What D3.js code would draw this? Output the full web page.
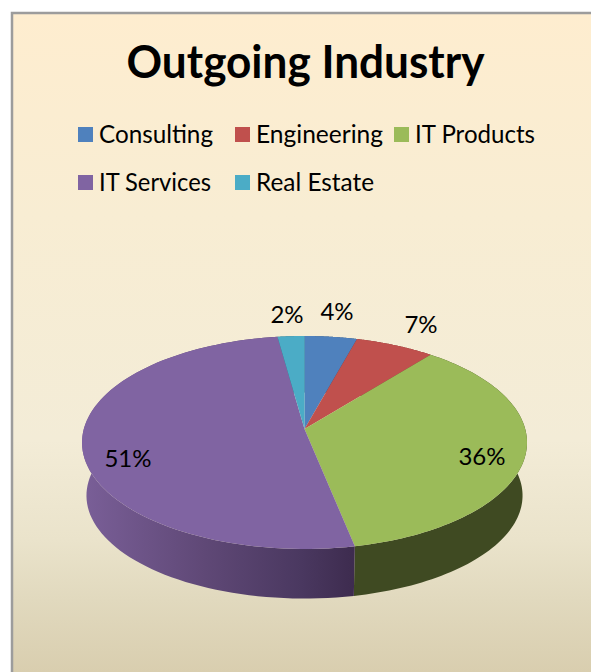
<!DOCTYPE html>
<html>
<head>
<meta charset="utf-8">
<script src="https://cdnjs.cloudflare.com/ajax/libs/d3/7.8.5/d3.min.js"></script>
<style>
html,body{margin:0;padding:0;background:#fff;overflow:hidden}
svg{display:block}
text{font-family:Lato,"Open Sans",sans-serif;fill:#000}
</style>
</head>
<body>
<svg id="chart" width="591" height="672"></svg>
<script>
// data
const categories = ["Consulting","Engineering","IT Products","IT Services","Real Estate"];
const shares = [4.3,6.5,36,51,2.2];
const colors = ["#4F81BD","#C0504D","#9BBB59","#8064A2","#4BACC6"];
const titleText = "Outgoing Industry";

// layout
const W = 591, H = 672;
const center = {x:304.5, y:429};
const R = 220.7, persp = 0.1268, yA = 104.8;
const depth = 53.5, bottomScaleX = 0.98, bottomScaleY = 0.967;
const legendCols = [78,235,394], legendRows = [127,175];
const legendWidths = [114,127,120,112,118];
const labelPos = [[337,312],[421,325],[482,457],[128,459],[287,315]];

const svg = d3.select("#chart");
const defs = svg.append("defs");

// background
const bg = defs.append("linearGradient").attr("id","bg").attr("x1",0).attr("y1",0).attr("x2",0).attr("y2",1);
[[0,"#FEEDCF"],[0.3,"#F8EDD3"],[0.635,"#F3ECD7"],[0.784,"#EAE3CB"],[0.873,"#E1D9BE"],[0.98,"#D9CEAF"]].forEach(s=>bg.append("stop").attr("offset",s[0]).attr("stop-color",s[1]));
svg.append("rect").attr("x",12).attr("y",13).attr("width",W).attr("height",H).attr("fill","url(#bg)").attr("stroke","#9C9C9C").attr("stroke-width",2.5);

// projection of the tilted disc
function proj(a, bottom){
  const u = Math.sin(a), v = Math.cos(a), k = 1 + persp*v;
  const px = R*u/k, py = -yA*v/k;
  return bottom ? [center.x + px*bottomScaleX, center.y + py*bottomScaleY + depth] : [center.x + px, center.y + py];
}
const arcs = d3.pie().sort(null).value(d=>d)(shares);
const n = 90;
const samples = d => d3.range(n+1).map(i => d.startAngle + (d.endAngle-d.startAngle)*i/n);
const line = d3.line();

// side wall gradients
const wallGradient = (id, stops) => {
  const g = defs.append("linearGradient").attr("id",id).attr("gradientUnits","userSpaceOnUse")
    .attr("x1",82).attr("y1",0).attr("x2",356).attr("y2",0);
  stops.forEach(s=>g.append("stop").attr("offset",s[0]).attr("stop-color",s[1]));
};
wallGradient("wallPurple",[[0,"#7A5F98"],[0.45,"#5F4876"],[0.8,"#4A3860"],[1,"#3D2B4E"]]);
const wallFill = ["#2F4D72","#742F2D","#3F4A22","url(#wallPurple)","#2C6A7A"];

// walls
svg.append("g").selectAll("path").data(arcs).join("path")
  .attr("d", d => {
    const s = samples(d);
    return line(s.map(a=>proj(a,false)).concat(s.slice().reverse().map(a=>proj(a,true)))) + "Z";
  })
  .attr("fill",(d,i)=>wallFill[i]);

// top surface
svg.append("g").selectAll("path").data(arcs).join("path")
  .attr("d", d => line([[center.x,center.y]].concat(samples(d).map(a=>proj(a,false)))) + "Z")
  .attr("fill",(d,i)=>colors[i]);

// title
svg.append("text").attr("x",305.5).attr("y",78).attr("text-anchor","middle")
  .attr("font-size",45).attr("font-weight",700)
  .attr("textLength",358).attr("lengthAdjust","spacingAndGlyphs").text(titleText);

// legend
const legendPos = [[0,0],[1,0],[2,0],[0,1],[1,1]];
const lg = svg.append("g").selectAll("g").data(categories).join("g")
  .attr("transform",(d,i)=>`translate(${legendCols[legendPos[i][0]]},${legendRows[legendPos[i][1]]})`);
lg.append("rect").attr("width",15).attr("height",15).attr("fill",(d,i)=>colors[i]);
lg.append("text").attr("x",21).attr("y",16).attr("font-size",25)
  .attr("textLength",(d,i)=>legendWidths[i]).attr("lengthAdjust","spacingAndGlyphs").text(d=>d);

// data labels
svg.append("g").selectAll("text").data(shares).join("text")
  .attr("x",(d,i)=>labelPos[i][0]).attr("y",(d,i)=>labelPos[i][1]+8)
  .attr("text-anchor","middle").attr("font-size",24)
  .text(d=>Math.round(d)+"%");
</script>
</body>
</html>
